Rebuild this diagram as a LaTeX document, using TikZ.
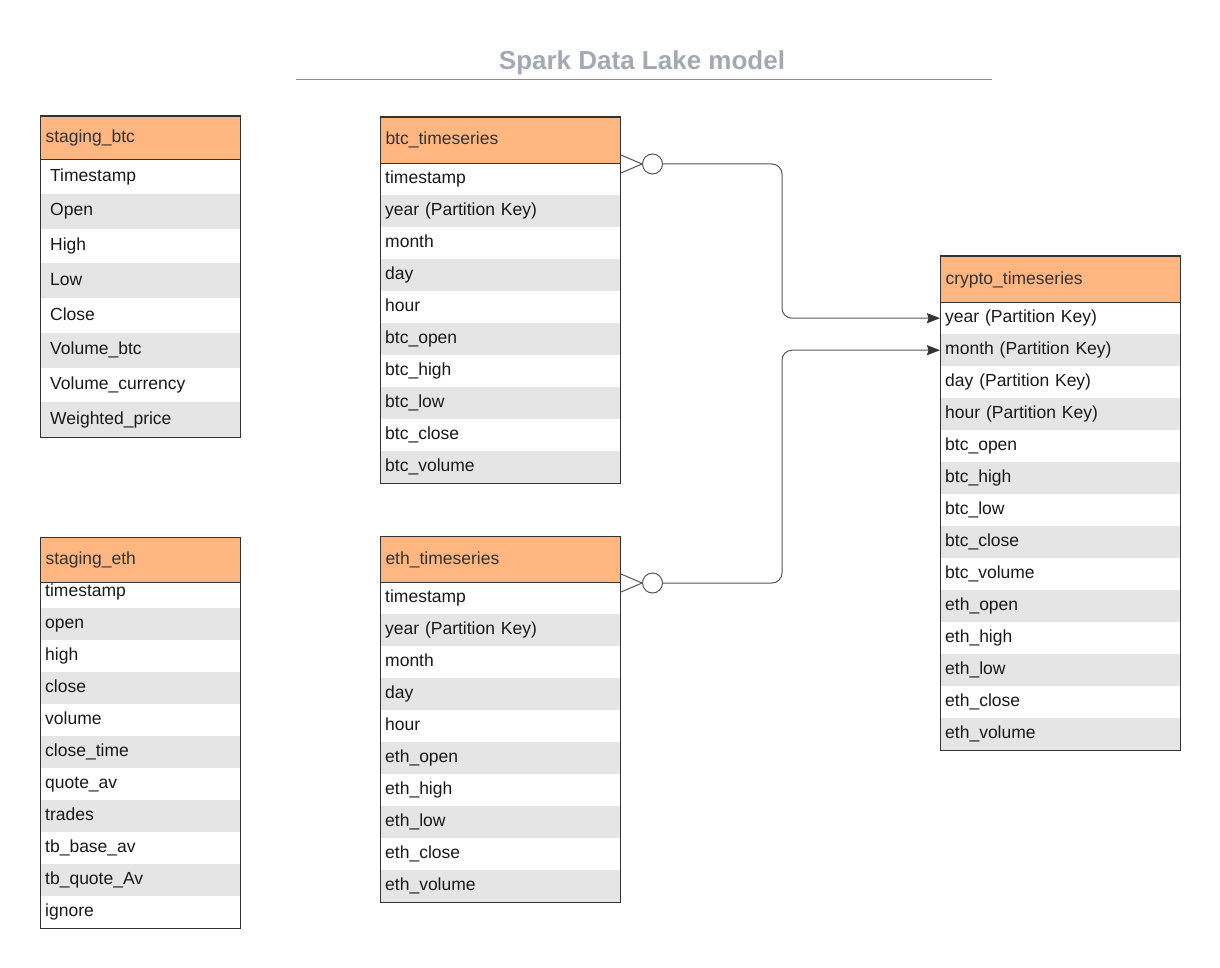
\documentclass[tikz,border=0pt]{standalone}
\usepackage{fontspec}
\setmainfont{Liberation Sans}
\usetikzlibrary{arrows.meta,positioning}
\definecolor{hdrfill}{HTML}{FFB680}
\definecolor{rowgray}{HTML}{E5E5E5}
\definecolor{edge}{HTML}{333333}
\definecolor{wirec}{HTML}{555555}
\definecolor{titlegray}{HTML}{A3A9B1}

\begin{document}
\begin{tikzpicture}[x=1pt,y=-1pt,font=\fontsize{17.5}{21}\selectfont,
                    >={Stealth[length=13pt,width=10pt,inset=1.5pt,color=edge]}]
  \tikzstyle{hdr}=[draw=edge,line width=1pt,fill=hdrfill,text=edge,anchor=north west,
                   inner xsep=5pt,inner ysep=0pt,align=left,text height=13pt,text depth=4pt]
  \tikzstyle{row}=[anchor=north west,inner xsep=5pt,inner ysep=0pt,minimum height=32pt,
                   align=left,text=black!90,text height=13pt,text depth=4pt]
  \tikzstyle{tbl}=[draw=edge,line width=1pt]
  \tikzstyle{wire}=[draw=wirec,line width=1pt]
  \tikzstyle{circ}=[circle,draw=wirec,fill=white,minimum size=20pt,inner sep=0pt,line width=1pt]

  \useasboundingbox (0,0) rectangle (1220,968);

  % title
  \node[font=\fontsize{26}{30}\selectfont\bfseries,text=titlegray] (ttl) at (642,63) {Spark Data Lake model};
  \coordinate (ul1) at (296,79.5);
  \coordinate (ul2) at (992,79.5);
  \draw[draw=black!45,line width=1pt] (ul1) -- (ul2);

  % staging_btc
  \foreach \t [count=\i] in {Timestamp,Open,High,Low,Close,Volume\_btc,Volume\_currency,Weighted\_price}{
    \ifodd\i \def\bg{white}\else\def\bg{rowgray}\fi
    \node[row,fill=\bg,text width=180pt,inner xsep=10pt,minimum height=34.75pt] (sb-\i) at (40,{159+(\i-1)*34.75}) {\t};
  }
  \node[hdr,text width=190pt,minimum height=43pt] (sbH) at (40,116) {staging\_btc};
  \draw[tbl] (sbH.north west) rectangle (sb-8.south east);

  % staging_eth
  \foreach \t [count=\i] in {timestamp,open,high,close,volume,close\_time,quote\_av,trades,tb\_base\_av,tb\_quote\_Av,ignore}{
    \ifodd\i \def\bg{white}\else\def\bg{rowgray}\fi
    \node[row,fill=\bg,text width=190pt] (se-\i) at (40,{576+(\i-1)*32}) {\t};
  }
  \node[hdr,text width=190pt,minimum height=45pt] (seH) at (40,537) {staging\_eth};
  \draw[tbl] (seH.north west) rectangle (se-11.south east);

  % btc_timeseries
  \foreach \t [count=\i] in {timestamp,year (Partition Key),month,day,hour,btc\_open,btc\_high,btc\_low,btc\_close,btc\_volume}{
    \ifodd\i \def\bg{white}\else\def\bg{rowgray}\fi
    \node[row,fill=\bg,text width=230pt] (bt-\i) at (380,{163+(\i-1)*32}) {\t};
  }
  \node[hdr,text width=230pt,minimum height=46pt] (btH) at (380,117) {btc\_timeseries};
  \draw[tbl] (btH.north west) rectangle (bt-10.south east);

  % eth_timeseries
  \foreach \t [count=\i] in {timestamp,year (Partition Key),month,day,hour,eth\_open,eth\_high,eth\_low,eth\_close,eth\_volume}{
    \ifodd\i \def\bg{white}\else\def\bg{rowgray}\fi
    \node[row,fill=\bg,text width=230pt] (et-\i) at (380,{582+(\i-1)*32}) {\t};
  }
  \node[hdr,text width=230pt,minimum height=46pt] (etH) at (380,536) {eth\_timeseries};
  \draw[tbl] (etH.north west) rectangle (et-10.south east);

  % crypto_timeseries
  \foreach \t [count=\i] in {year (Partition Key),month (Partition Key),day (Partition Key),hour (Partition Key),
                             btc\_open,btc\_high,btc\_low,btc\_close,btc\_volume,
                             eth\_open,eth\_high,eth\_low,eth\_close,eth\_volume}{
    \ifodd\i \def\bg{white}\else\def\bg{rowgray}\fi
    \node[row,fill=\bg,text width=230pt] (cy-\i) at (940,{302+(\i-1)*32}) {\t};
  }
  \node[hdr,text width=230pt,minimum height=46pt] (cyH) at (940,256) {crypto\_timeseries};
  \draw[tbl] (cyH.north west) rectangle (cy-14.south east);

  % relations
  \node[circ,right=21pt of btH.south east] (bcir) {};
  \node[circ,right=21pt of etH.south east] (ecir) {};
  \draw[wire] ([yshift=9pt]btH.south east) -- (bcir.west) -- ([yshift=-9pt]btH.south east);
  \draw[wire] ([yshift=9pt]etH.south east) -- (ecir.west) -- ([yshift=-9pt]etH.south east);
  \draw[wire,->,rounded corners=10pt] (bcir.east) -- ++(119,0) |- (cy-1.west);
  \draw[wire,->,rounded corners=10pt] (ecir.east) -- ++(119,0) |- (cy-2.west);
\end{tikzpicture}
\end{document}
